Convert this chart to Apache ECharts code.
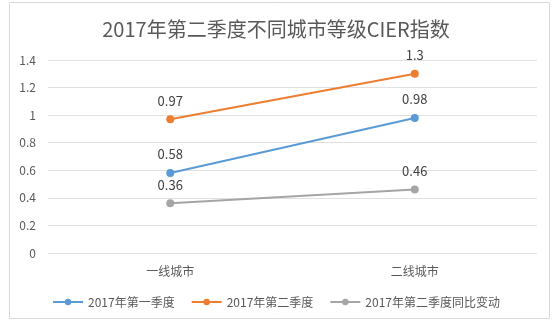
<!DOCTYPE html>
<html><head><meta charset="utf-8">
<script src="https://cdn.jsdelivr.net/npm/echarts@6/dist/echarts.min.js"></script>
<style>html,body{margin:0;padding:0;background:#fff}#c{width:552px;height:327px}</style>
</head><body><div id="c"></div>
<script>
const categories = ['一线城市', '二线城市'];
const seriesNames = ['2017年第一季度', '2017年第二季度', '2017年第二季度同比变动'];
const q1 = [0.58, 0.98];
const q2 = [0.97, 1.3];
const yoy = [0.36, 0.46];
const colors = ['#5B9BD5', '#ED7D31', '#A5A5A5'];
const font = '"Microsoft YaHei","Noto Sans CJK SC","Noto Sans",sans-serif';
const chart = echarts.init(document.getElementById('c'));
function mk(name, data, color) {
  return {
    name, type: 'line', data, color,
    symbol: 'circle', symbolSize: 8,
    lineStyle: { width: 2, color },
    itemStyle: { color },
    label: { show: true, position: 'top', distance: 8, color: '#404040', fontSize: 13, fontFamily: font },
    emphasis: { disabled: true }
  };
}
chart.setOption({
  animation: false,
  graphic: [{ type: 'rect', shape: { x: 9.5, y: 2.5, width: 540, height: 316 }, style: { fill: 'none', stroke: '#d9d9d9', lineWidth: 1 }, silent: true }],
  title: { text: '2017年第二季度不同城市等级CIER指数', left: 'center', top: 14,
    textStyle: { fontSize: 20, fontWeight: 'normal', color: '#595959', fontFamily: font } },
  legend: { data: seriesNames, bottom: 14, left: 'center', itemWidth: 30, itemHeight: 8, itemGap: 16,
    textStyle: { fontSize: 12, color: '#595959', fontFamily: font } },
  grid: { left: 48, right: 15, top: 60, bottom: 74, containLabel: false },
  xAxis: { type: 'category', data: categories, boundaryGap: true,
    axisLine: { show: false }, axisTick: { show: false },
    axisLabel: { color: '#595959', fontSize: 12, margin: 12, fontFamily: font } },
  yAxis: { type: 'value', min: 0, max: 1.4, interval: 0.2,
    axisLine: { show: false }, axisTick: { show: false },
    splitLine: { lineStyle: { color: '#e0e0e0', width: 1 } },
    axisLabel: { color: '#595959', fontSize: 12, margin: 12, fontFamily: font,
      formatter: v => String(Math.round(v * 10) / 10) } },
  series: [mk(seriesNames[0], q1, colors[0]), mk(seriesNames[1], q2, colors[1]), mk(seriesNames[2], yoy, colors[2])]
});
</script></body></html>
